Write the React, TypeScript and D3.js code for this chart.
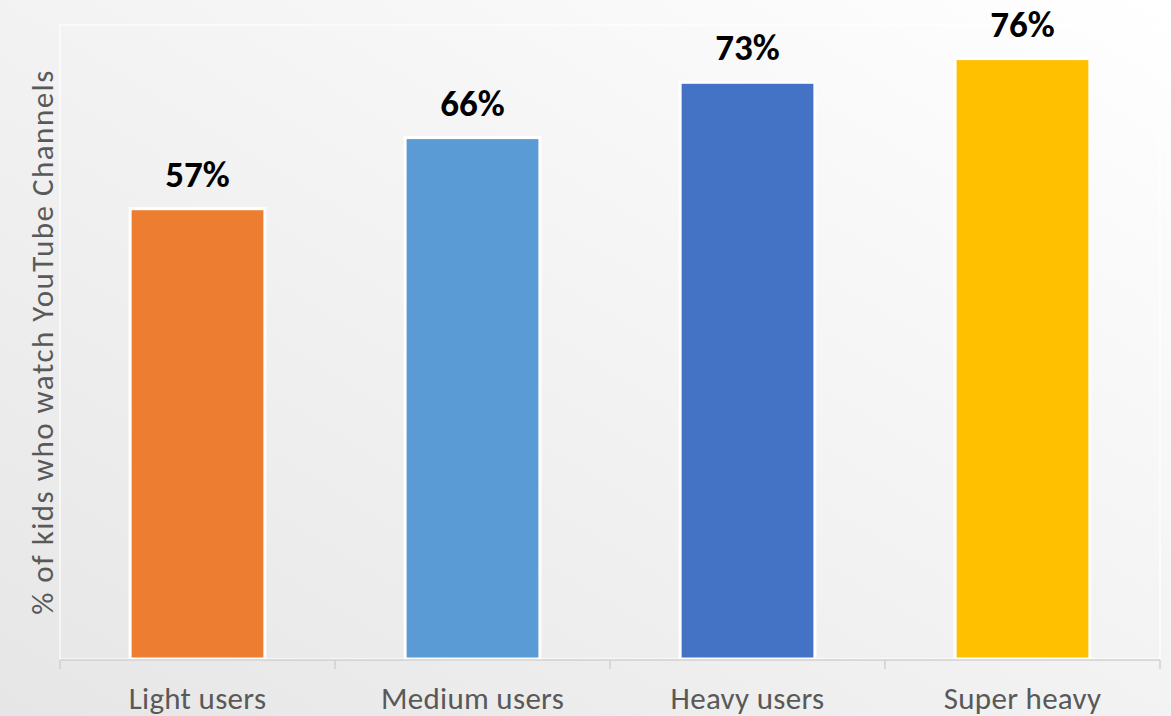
import React from "react";
import * as d3 from "d3";

const categories = ["Light users", "Medium users", "Heavy users", "Super heavy"];
const values = [0.57, 0.66, 0.73, 0.76];
const colors = ["#ED7D31", "#5B9BD5", "#4472C4", "#FFC000"];
const yAxisTitle = "% of kids who watch YouTube Channels";

const W = 1171;
const H = 716;
const plot = { left: 60, right: 1160, top: 25, bottom: 659 };

export default function App() {
  const x = d3
    .scaleBand<string>()
    .domain(categories)
    .range([plot.left, plot.right])
    .paddingInner(0.51)
    .paddingOuter(0.255);
  const y = d3.scaleLinear().domain([0, 0.8]).range([plot.bottom, plot.top + 2]);
  const band = d3.scaleBand<string>().domain(categories).range([plot.left, plot.right]);
  const ticks = categories.map((c) => band(c) as number).concat([plot.right]);
  const fmt = d3.format(".0%");
  const font = "Carlito, Lato, 'Open Sans', sans-serif";

  return (
    <svg
      width={W}
      height={H}
      style={{ position: "absolute", left: 0, top: 0 }}
      fontFamily={font}
    >
      <defs>
        <linearGradient id="bg" x1="1" y1="0" x2="0" y2="1">
          <stop offset="0" stopColor="#ffffff" />
          <stop offset="1" stopColor="#e6e6e6" />
        </linearGradient>
      </defs>
      <rect x={0} y={0} width={W} height={H} fill="url(#bg)" />
      <rect
        x={plot.left}
        y={plot.top}
        width={plot.right - plot.left}
        height={plot.bottom - plot.top}
        fill="none"
        stroke="#ffffff"
        strokeWidth={1.5}
        opacity={0.8}
      />
      {categories.map((c, i) => (
        <rect
          key={c}
          x={x(c)}
          y={y(values[i])}
          width={x.bandwidth()}
          height={plot.bottom - y(values[i])}
          fill={colors[i]}
          stroke="#ffffff"
          strokeWidth={3}
        />
      ))}
      <line
        x1={plot.left}
        x2={plot.right}
        y1={plot.bottom + 1}
        y2={plot.bottom + 1}
        stroke="#d0d0d0"
        strokeWidth={1.5}
      />
      {ticks.map((t, i) => (
        <line
          key={i}
          x1={t}
          x2={t}
          y1={plot.bottom + 1}
          y2={plot.bottom + 10}
          stroke="#d0d0d0"
          strokeWidth={1.5}
        />
      ))}
      {categories.map((c, i) => (
        <text
          key={c}
          x={(x(c) as number) + x.bandwidth() / 2}
          y={709}
          textAnchor="middle"
          fontSize={31}
          letterSpacing={0.3}
          fill="#595959"
        >
          {c}
        </text>
      ))}
      {categories.map((c, i) => (
        <text
          key={c}
          x={(x(c) as number) + x.bandwidth() / 2}
          y={y(values[i]) - 22}
          textAnchor="middle"
          fontSize={37}
          fontWeight="bold"
          fill="#000000"
        >
          {fmt(values[i])}
        </text>
      ))}
      <text
        transform={`translate(53, ${(plot.top + plot.bottom) / 2}) rotate(-90)`}
        textAnchor="middle"
        fontSize={31}
        letterSpacing={1.5}
        fill="#595959"
      >
        {yAxisTitle}
      </text>
    </svg>
  );
}
